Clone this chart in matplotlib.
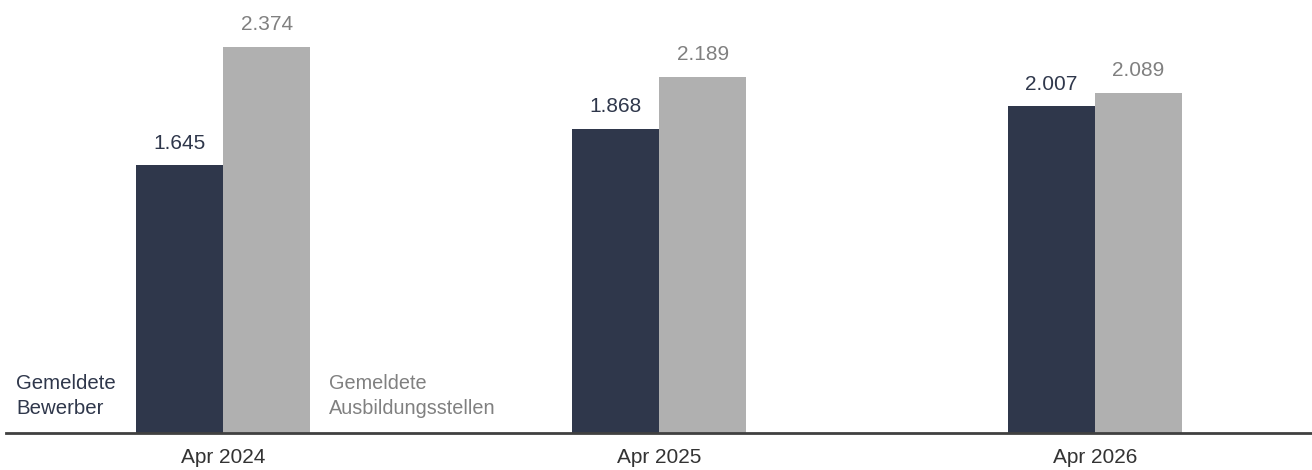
import numpy as np
import matplotlib.pyplot as plt

plt.rcParams['font.family'] = ['Liberation Sans', 'DejaVu Sans']

# data
months = ["Apr 2024", "Apr 2025", "Apr 2026"]
bewerber = [1645, 1868, 2007]
stellen = [2374, 2189, 2089]

dark = "#2f374b"
grey = "#b0b0b0"
grey_txt = "#808080"

fig = plt.figure(figsize=(13.12, 4.70), dpi=100)
ax = fig.add_axes([0, 37 / 470, 1, 433 / 470])

x = np.arange(len(months))
w = 0.2
b1 = ax.bar(x - w / 2, bewerber, w, color=dark)
b2 = ax.bar(x + w / 2, stellen, w, color=grey)

# value labels above bars
for rect, v in zip(b1, bewerber):
    ax.annotate(f"{v/1000:.3f}", (rect.get_x() + rect.get_width() / 2, v),
                xytext=(0, 16), textcoords="offset points", ha="center", va="center",
                fontsize=15, color=dark)
for rect, v in zip(b2, stellen):
    ax.annotate(f"{v/1000:.3f}", (rect.get_x() + rect.get_width() / 2, v),
                xytext=(0, 16), textcoords="offset points", ha="center", va="center",
                fontsize=15, color=grey_txt)

# series names next to the first group
ax.text(-0.475, 226, "Gemeldete\nBewerber", ha="left", va="center",
        fontsize=14.7, color=dark, linespacing=1.4)
ax.text(0.243, 226, "Gemeldete\nAusbildungsstellen", ha="left", va="center",
        fontsize=14.3, color=grey_txt, linespacing=1.42)

ax.set_xlim(-0.5115, 2.4977)
ax.set_ylim(0, 2660)

for s in ax.spines.values():
    s.set_visible(False)
ax.axhline(0, xmin=6 / 1312, xmax=1, color="#404040", lw=2, clip_on=False)
ax.set_yticks([])
ax.set_xticks(x)
ax.set_xticklabels(months, fontsize=15, color="#333333")
ax.tick_params(axis="x", length=0, pad=11)

fig.savefig("out.png", dpi=100)
